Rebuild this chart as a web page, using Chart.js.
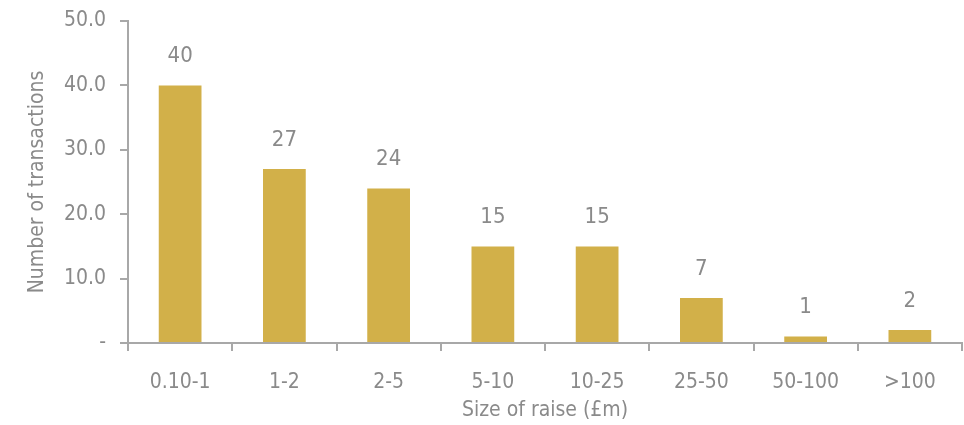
<!DOCTYPE html>
<html>
<head>
<meta charset="utf-8">
<script src="https://cdn.jsdelivr.net/npm/chart.js@4/dist/chart.umd.min.js"></script>
<style>
  html, body { margin: 0; padding: 0; background: #fff; }
  #wrap { width: 964px; height: 425px; }
</style>
</head>
<body>
<div id="wrap"><canvas id="grafico" width="964" height="425"></canvas></div>
<script>
// datos del grafico
var categorias = ['0.10-1', '1-2', '2-5', '5-10', '10-25', '25-50', '50-100', '>100'];
var transacciones = [40, 27, 24, 15, 15, 7, 1, 2];
var marcasY = [0, 10, 20, 30, 40, 50];

var gris = '#8a8a8a';
var ejeColor = '#a8a8a8';
var fuente = "'Liberation Sans Narrow', 'DejaVu Sans Condensed', sans-serif";
var tam = 21;

// etiquetas encima de cada barra
var etiquetas = {
  id: 'etiquetas',
  afterDatasetsDraw: function (chart) {
    var ctx = chart.ctx;
    var meta = chart.getDatasetMeta(0);
    ctx.save();
    ctx.fillStyle = gris;
    ctx.font = '22px ' + fuente;
    ctx.textAlign = 'center';
    ctx.textBaseline = 'bottom';
    meta.data.forEach(function (bar, i) {
      ctx.fillText(String(transacciones[i]), bar.x, bar.y - 18);
    });
    ctx.restore();
  }
};

var ctx = document.getElementById('grafico').getContext('2d');
new Chart(ctx, {
  type: 'bar',
  data: {
    labels: categorias,
    datasets: [{
      data: transacciones,
      backgroundColor: '#d2b049',
      borderWidth: 0,
      barPercentage: 0.41,
      categoryPercentage: 1
    }]
  },
  options: {
    responsive: false,
    animation: false,
    layout: { padding: { top: 21, right: 2, left: 0, bottom: 0 } },
    plugins: { legend: { display: false }, tooltip: { enabled: false } },
    scales: {
      x: {
        grid: { offset: true, drawOnChartArea: false, color: ejeColor, tickLength: 8, lineWidth: 2 },
        border: { color: ejeColor, width: 2 },
        ticks: { color: gris, font: { family: fuente, size: tam }, padding: 19 },
        title: { display: true, text: 'Size of raise (£m)', color: gris, font: { family: fuente, size: tam }, padding: { top: 0, bottom: 2 } },
        afterFit: function (s) { s.height = 82; }
      },
      y: {
        min: 0,
        max: 50,
        afterBuildTicks: function (s) { s.ticks = marcasY.map(function (v) { return { value: v }; }); },
        grid: { drawOnChartArea: false, color: ejeColor, tickLength: 8, lineWidth: 2 },
        border: { color: ejeColor, width: 2 },
        ticks: {
          color: gris,
          font: { family: fuente, size: tam },
          padding: 14,
          callback: function (v) { return v === 0 ? '-' : v.toFixed(1); }
        },
        title: { display: true, text: 'Number of transactions', color: gris, font: { family: fuente, size: tam }, padding: { top: 25, bottom: 0 } },
        afterFit: function (s) { s.width = 128; s.paddingTop = 0; s.paddingBottom = 0; }
      }
    }
  },
  plugins: [etiquetas]
});
</script>
</body>
</html>
